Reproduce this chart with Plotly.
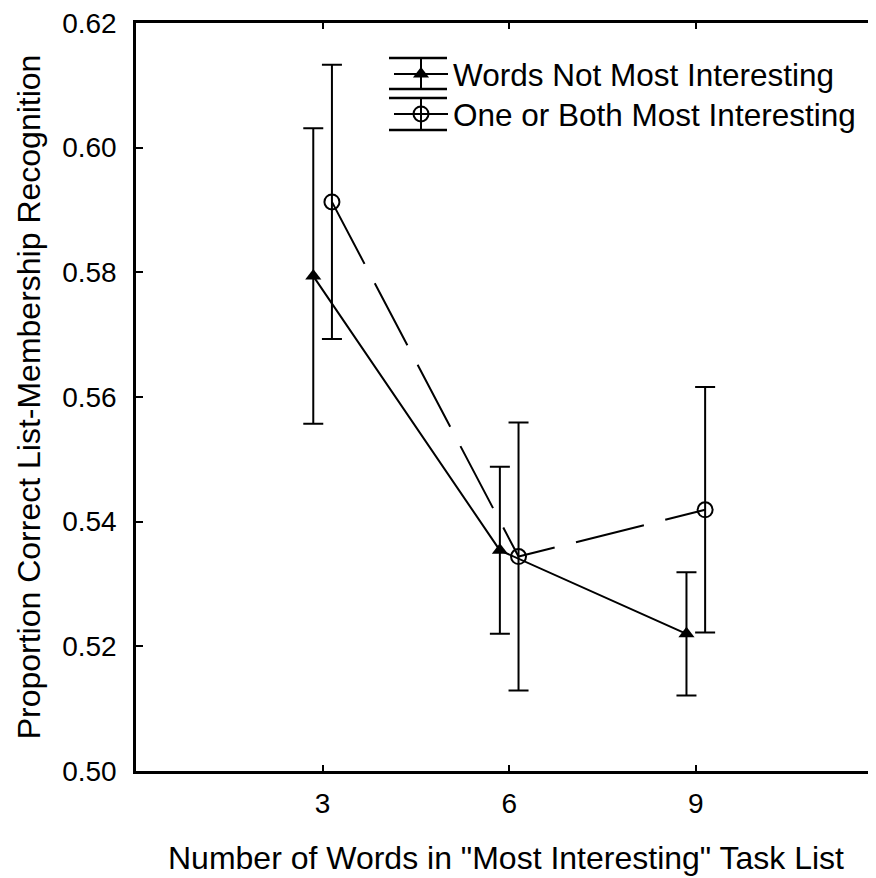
import plotly.graph_objects as go

# ---- data ----
list_sizes = [3, 6, 9]
tick_labels_x = ["3", "6", "9"]
series_names = ["Words Not Most Interesting", "One or Both Most Interesting"]
not_most_mean = [0.5794, 0.5354, 0.5220]
not_most_err = [0.0237, 0.0134, 0.0099]
most_mean = [0.5913, 0.5344, 0.5419]
most_err = [0.0220, 0.0215, 0.0197]
y_ticks = [0.50, 0.52, 0.54, 0.56, 0.58, 0.60, 0.62]
offset = 0.15

# the page body adds an 8px margin, so the figure is 8px smaller
BODY = 8
W, H = 876 - BODY, 878 - BODY
ML, MR, MT = 136 - BODY, 0, 23 - BODY
PW = W - ML - MR
PH = 748.5
MB = H - MT - PH

FONT = "Liberation Sans, Arial, sans-serif"

fig = go.Figure()
fig.add_trace(go.Scatter(
    x=[v - offset for v in list_sizes], y=not_most_mean,
    name=series_names[0], mode="lines+markers", legend="legend",
    line=dict(color="black", width=2),
    marker=dict(symbol="triangle-up", size=14, color="black"),
    error_y=dict(type="data", array=not_most_err, visible=True,
                 color="black", thickness=2, width=10),
))
fig.add_trace(go.Scatter(
    x=[v + offset for v in list_sizes], y=most_mean,
    name=series_names[1], mode="lines+markers", legend="legend2",
    line=dict(color="black", width=2, dash="70px,22px"),
    marker=dict(symbol="circle-open", size=15, color="black",
                line=dict(color="black", width=2)),
    error_y=dict(type="data", array=most_err, visible=True,
                 color="black", thickness=2, width=10),
))

# helpers: screen pixel -> paper coordinates
def sx(px):
    return (px - BODY - ML) / PW

def sy(py):
    return 1 - (py - BODY - MT) / PH

LX = 389  # legend left (screen px)
shapes = []
for top, bot in [(58, 89), (98, 130)]:
    for yy in (top, bot):
        shapes.append(dict(type="line", xref="paper", yref="paper",
                           x0=sx(389), x1=sx(LX + 58),
                           y0=sy(yy), y1=sy(yy),
                           line=dict(color="black", width=2.5)))
    shapes.append(dict(type="line", xref="paper", yref="paper",
                       x0=sx(LX + 32), x1=sx(LX + 32),
                       y0=sy(top), y1=sy(bot),
                       line=dict(color="black", width=2)))

leg_common = dict(xanchor="left", yanchor="top", bgcolor="rgba(0,0,0,0)",
                  font=dict(size=31.5, family=FONT), itemwidth=54)

fig.update_layout(
    width=W, height=H,
    margin=dict(l=ML, r=MR, t=MT, b=MB),
    paper_bgcolor="white", plot_bgcolor="white",
    font=dict(family=FONT, color="black", size=28),
    showlegend=True,
    legend=dict(x=sx(LX), y=sy(47), **leg_common),
    legend2=dict(x=sx(LX), y=sy(87), **leg_common),
    shapes=shapes,
    xaxis=dict(range=[0, PW / 62.2], tickmode="array", tickvals=list_sizes,
               ticktext=tick_labels_x, ticks="inside", ticklen=6, tickwidth=2,
               tickcolor="black", showline=True, linecolor="black", linewidth=2.5,
               mirror="ticks", showgrid=False, zeroline=False,
               tickfont=dict(size=28), ticklabelstandoff=6,
               ticklabeloverflow="allow",
               title=dict(text='Number of Words in "Most Interesting" Task List',
                          font=dict(size=32), standoff=29)),
    yaxis=dict(range=[0.50, 0.62], tickmode="array", tickvals=y_ticks,
               ticktext=[f"{v:.2f}" for v in y_ticks],
               ticks="inside", ticklen=7, tickwidth=2, tickcolor="black",
               showline=True, linecolor="black", linewidth=2.5,
               showgrid=False, zeroline=False,
               tickfont=dict(size=28), ticklabelstandoff=11,
               ticklabeloverflow="allow",
               title=dict(text="Proportion Correct List-Membership Recognition",
                          font=dict(size=32), standoff=12)),
)

fig.write_html("out.html")
